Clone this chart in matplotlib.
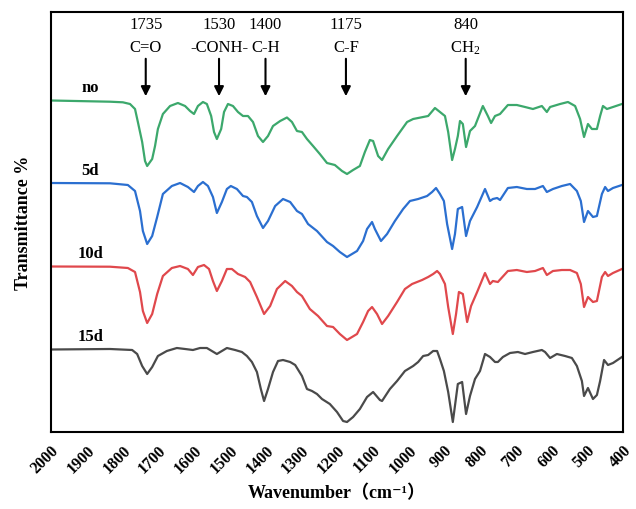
import matplotlib.pyplot as plt

plt.rcParams['font.family'] = ['Liberation Serif', 'DejaVu Serif', 'Noto Sans CJK SC']
plt.rcParams['mathtext.default'] = 'regular'

# spectra: wavenumber (cm-1) and depth below the top
# of the stacked plot (arbitrary units, larger = lower transmittance)
wn_no = [2000, 1835, 1799, 1779, 1765, 1757, 1745, 1737, 1731, 1717, 1709, 1701,
         1687, 1667, 1645, 1625, 1611, 1600, 1589, 1575, 1564, 1552, 1544, 1536,
         1524, 1516, 1505, 1491, 1477, 1463, 1449, 1435, 1421, 1407, 1393, 1379,
         1359, 1340, 1326, 1312, 1298, 1284, 1267, 1248, 1228, 1206, 1186, 1172,
         1155, 1136, 1122, 1108, 1099, 1085, 1074, 1057, 1032, 1004, 987, 959,
         945, 926, 912, 898, 889, 878, 870, 862, 856, 848, 839, 828, 814, 792,
         778, 769, 758, 744, 722, 697, 674, 652, 627, 613, 604, 576, 554, 534,
         520, 509, 498, 487, 473, 464, 456, 445, 428, 403]
no = [101.5, 102.7, 103.3, 105, 110, 123, 143, 162, 167, 160, 147, 130,
      115, 107, 104, 107, 112, 115, 107, 103, 105, 117, 133, 140,
      130, 113, 105, 107, 113, 117, 117, 123, 137, 143, 137, 127,
      122, 118.5, 123, 132, 133, 140, 147, 155, 164, 166, 172, 175,
      171, 167, 153, 141, 142, 157, 161, 150, 137, 123, 120, 118,
      117, 109, 113, 117, 133, 161, 150, 137, 122, 125, 148, 132, 127, 107,
      117, 124, 117, 115, 106, 106, 108, 110, 107, 113, 108, 105, 103, 107,
      120, 138, 125, 130, 130, 117, 107, 110, 108, 105]

wn_5d = [2000, 1835, 1785, 1765, 1751, 1743, 1731, 1717, 1703, 1687, 1662, 1639,
         1617, 1600, 1589, 1575, 1561, 1547, 1536, 1522, 1508, 1497, 1480, 1463,
         1452, 1438, 1424, 1407, 1393, 1373, 1351, 1331, 1312, 1298, 1281, 1256,
         1228, 1211, 1192, 1172, 1144, 1127, 1116, 1102, 1094, 1077, 1060, 1038,
         1015, 996, 973, 948, 934, 923, 912, 901, 892, 878, 870, 862, 850, 839,
         828, 808, 786, 772, 764, 752, 744, 722, 697, 669, 646, 624, 613, 596,
         571, 548, 529, 518, 509, 498, 484, 473, 459, 450, 442, 428, 403]
d5 = [184, 184.3, 186, 192, 212, 232, 245, 237, 218, 195, 187, 184,
      188, 193, 187, 183, 187, 198, 214, 203, 190, 187, 190, 197,
      198, 203, 217, 229, 222, 207, 200, 203, 212, 215, 225, 232,
      243, 247, 253, 258, 252, 242, 230, 223, 230, 242, 235, 222,
      210, 202, 200, 197, 193, 189, 195, 202, 225, 250, 235, 210, 208, 237,
      222, 208, 190, 202, 200, 199, 201, 189, 188, 190, 190, 187, 193, 190,
      187, 185, 192, 202, 223, 212, 218, 217, 195, 188, 192, 189, 186]

wn_10d = [2000, 1835, 1785, 1765, 1751, 1743, 1731, 1717, 1703, 1687, 1662, 1639,
          1617, 1603, 1589, 1572, 1558, 1547, 1536, 1522, 1508, 1494, 1477, 1457,
          1443, 1424, 1404, 1387, 1368, 1345, 1326, 1312, 1298, 1276, 1253, 1228,
          1211, 1192, 1172, 1144, 1127, 1113, 1102, 1088, 1074, 1057, 1032, 1010,
          990, 962, 945, 931, 920, 912, 898, 889, 876, 867, 859, 848, 836, 825,
          808, 786, 772, 764, 750, 722, 697, 669, 646, 624, 613, 596, 571, 548,
          529, 518, 509, 498, 484, 473, 459, 450, 442, 428, 403]
d10 = [267.5, 267.7, 269, 273, 293, 312, 324, 315, 295, 277, 269, 267,
       270, 276, 268, 266, 270, 282, 292, 282, 270, 270, 275, 278,
       283, 298, 315, 307, 290, 282, 287, 293, 297, 310, 317, 327,
       328, 335, 341, 335, 323, 312, 308, 315, 325, 317, 303, 290,
       285, 281, 278, 275, 272, 275, 285, 308, 335, 315, 293, 295, 323, 307,
       293, 274, 285, 282, 283, 272, 271, 273, 272, 269, 276, 272, 271, 271,
       274, 285, 308, 298, 303, 302, 278, 273, 277, 274, 270]

wn_15d = [2000, 1835, 1773, 1759, 1745, 1731, 1717, 1701, 1676, 1648, 1625, 1603,
          1583, 1564, 1550, 1536, 1522, 1508, 1485, 1466, 1452, 1438, 1424, 1413,
          1404, 1393, 1379, 1365, 1351, 1331, 1317, 1298, 1284, 1270, 1256, 1242,
          1220, 1200, 1183, 1172, 1155, 1136, 1116, 1099, 1080, 1074, 1052, 1032,
          1010, 987, 973, 959, 945, 931, 920, 912, 901, 889, 876, 862, 850, 839,
          828, 814, 800, 786, 772, 758, 750, 736, 716, 694, 674, 652, 627, 618,
          604, 585, 562, 543, 529, 515, 509, 498, 484, 473, 464, 453, 442, 428, 403]
d15 = [350.5, 350, 351, 355, 367, 375, 368, 357, 352, 349, 350, 351,
       349, 349, 352, 355, 352, 349, 351, 353, 357, 363, 373, 390,
       402, 390, 373, 362, 361, 363, 366, 377, 390, 392, 395, 400,
       405, 413, 422, 423, 418, 410, 398, 393, 401, 402, 390, 382,
       372, 367, 363, 357, 356, 352, 352, 360, 372, 393, 423, 385, 383, 415,
       397, 380, 372, 355, 358, 363, 363, 358, 354, 353, 355, 353, 351, 353,
       359, 355, 357, 359, 367, 382, 397, 389, 400, 396, 382, 361, 366, 364, 358]

names = ['no', '5d', '10d', '15d']
colors = ['#3ca86c', '#2b6fd0', '#e0484c', '#4a4a4a']

peaks = [1735, 1530, 1400, 1175, 840]
groups = ['C=O', '-CONH-', 'C-H', 'C-F', 'CH$_2$']

fig = plt.figure(figsize=(6.36, 5.10), dpi=100)
ax = fig.add_axes([51/636, 77/510, 572/636, 420/510])

top = 433
for name, x, vals, c in zip(names, [wn_no, wn_5d, wn_10d, wn_15d],
                            [no, d5, d10, d15], colors):
    t = [top - v for v in vals]
    ax.plot(x, t, color=c, lw=1.6, solid_joinstyle='round')
    ax.text(1890, t[0] + 13, name, ha='center', va='center',
            fontsize=12, fontweight='bold')

for p, g in zip(peaks, groups):
    ax.text(p, 408, str(p), ha='center', va='center', fontsize=12)
    ax.text(p, 385, g, ha='center', va='center', fontsize=12)
    ax.annotate('', xy=(p, 333), xytext=(p, 376),
                arrowprops=dict(arrowstyle='-|>', color='black', lw=1.5,
                                mutation_scale=14))

ax.set_xlim(2000, 400)
ax.set_ylim(0, 420)
ax.set_xticks(range(2000, 399, -100))
ax.set_xticklabels([str(v) for v in range(2000, 399, -100)], rotation=45,
                   ha='right', rotation_mode='anchor', fontsize=11.5,
                   fontweight='bold')
ax.tick_params(axis='x', length=0, pad=7)
ax.set_yticks([])
for s in ax.spines.values():
    s.set_linewidth(1.5)

ax.set_xlabel('Wavenumber（cm⁻¹）', fontsize=13, fontweight='bold', labelpad=6)
ax.set_ylabel('Transmittance %', fontsize=13, fontweight='bold', labelpad=14)

fig.savefig('out.png', dpi=100)
